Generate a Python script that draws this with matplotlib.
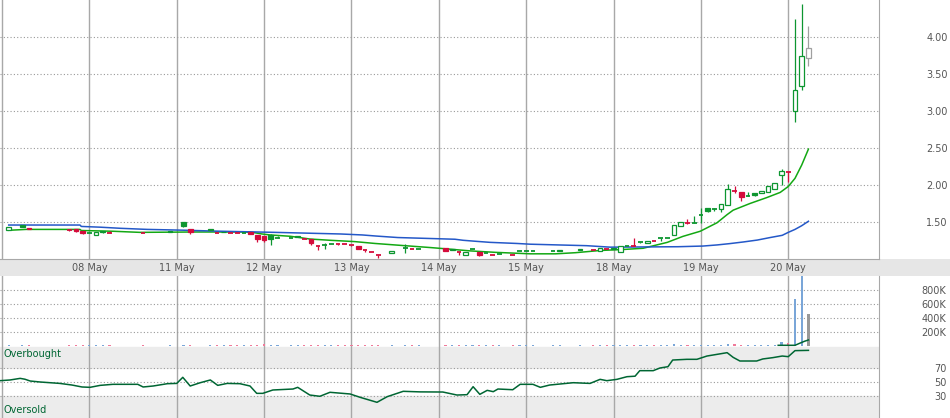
import matplotlib
matplotlib.use("Agg")
import matplotlib.pyplot as plt
from matplotlib.patches import Rectangle
import matplotlib.transforms as mtransforms

# 30-minute candles, 13 per trading day; missing slots = no trades
candle_idx = [1, 3, 4, 10, 11, 12, 13, 14, 15, 16, 21, 25, 27, 28, 31, 32, 33, 34, 35, 36,
              37, 38, 39, 40, 41, 43, 44, 45, 46, 47, 48, 49, 50, 51, 52, 53, 54, 55, 56, 58,
              60, 61, 62, 66, 67, 68, 69, 70, 71, 72, 73, 74, 76, 77, 78, 79, 82, 83, 86, 88,
              89, 90, 91, 92, 93, 94, 95, 96, 97, 98, 99, 100, 101, 102, 103, 104, 105, 106, 107, 108,
              109, 110, 111, 112, 113, 114, 115, 116, 117, 118, 119, 120]
opens = [1.39, 1.455, 1.415, 1.395, 1.40, 1.378, 1.347, 1.32, 1.38, 1.355, 1.35, 1.378, 1.50, 1.40, 1.40, 1.35, 1.37, 1.358, 1.356, 1.357,
         1.37, 1.32, 1.31, 1.32, 1.28, 1.29, 1.31, 1.27, 1.27, 1.18, 1.19, 1.207, 1.20, 1.198, 1.19, 1.175, 1.125, 1.09, 1.05, 1.08,
         1.145, 1.13, 1.132, 1.15, 1.135, 1.09, 1.06, 1.13, 1.09, 1.075, 1.05, 1.065, 1.05, 1.11, 1.11, 1.11, 1.11, 1.118, 1.13, 1.118,
         1.11, 1.13, 1.14, 1.09, 1.18, 1.175, 1.235, 1.21, 1.238, 1.28, 1.28, 1.33, 1.445, 1.49, 1.49, 1.595, 1.685, 1.67, 1.67, 1.73,
         1.92, 1.91, 1.845, 1.89, 1.89, 1.90, 1.94, 2.14, 2.18, 3.00, 3.34, 3.72]
highs = [1.43, 1.455, 1.415, 1.40, 1.40, 1.378, 1.347, 1.36, 1.38, 1.38, 1.35, 1.378, 1.50, 1.40, 1.40, 1.35, 1.37, 1.358, 1.356, 1.357,
         1.37, 1.32, 1.31, 1.34, 1.31, 1.29, 1.31, 1.27, 1.27, 1.18, 1.22, 1.207, 1.20, 1.198, 1.19, 1.175, 1.125, 1.09, 1.05, 1.11,
         1.20, 1.13, 1.132, 1.15, 1.135, 1.09, 1.092, 1.13, 1.09, 1.075, 1.05, 1.065, 1.05, 1.11, 1.11, 1.11, 1.11, 1.118, 1.13, 1.118,
         1.15, 1.13, 1.155, 1.175, 1.18, 1.28, 1.235, 1.24, 1.238, 1.28, 1.28, 1.455, 1.50, 1.535, 1.58, 1.685, 1.685, 1.69, 1.74, 2.01,
         1.98, 1.91, 1.91, 1.89, 1.92, 1.985, 2.03, 2.21, 2.18, 4.24, 4.445, 4.15]
lows = [1.39, 1.432, 1.40, 1.385, 1.37, 1.34, 1.347, 1.32, 1.35, 1.355, 1.35, 1.362, 1.43, 1.34, 1.388, 1.35, 1.362, 1.358, 1.356, 1.357,
        1.34, 1.23, 1.23, 1.195, 1.28, 1.29, 1.295, 1.27, 1.19, 1.12, 1.13, 1.207, 1.185, 1.198, 1.17, 1.13, 1.09, 1.09, 1.01, 1.08,
        1.08, 1.13, 1.132, 1.11, 1.115, 1.055, 1.06, 1.13, 1.045, 1.075, 1.05, 1.065, 1.05, 1.11, 1.11, 1.11, 1.11, 1.11, 1.122, 1.118,
        1.11, 1.13, 1.14, 1.09, 1.18, 1.175, 1.21, 1.21, 1.238, 1.25, 1.28, 1.33, 1.445, 1.475, 1.49, 1.485, 1.63, 1.645, 1.64, 1.73,
        1.89, 1.79, 1.845, 1.85, 1.89, 1.90, 1.94, 2.00, 2.045, 2.855, 3.29, 3.61]
closes = [1.43, 1.432, 1.40, 1.395, 1.38, 1.345, 1.347, 1.36, 1.365, 1.355, 1.35, 1.362, 1.45, 1.36, 1.388, 1.35, 1.362, 1.358, 1.356, 1.357,
          1.34, 1.265, 1.25, 1.275, 1.28, 1.29, 1.295, 1.27, 1.21, 1.18, 1.19, 1.207, 1.20, 1.198, 1.19, 1.13, 1.125, 1.09, 1.05, 1.11,
          1.145, 1.13, 1.132, 1.11, 1.115, 1.09, 1.092, 1.13, 1.055, 1.075, 1.05, 1.065, 1.05, 1.11, 1.11, 1.11, 1.11, 1.11, 1.122, 1.118,
          1.15, 1.13, 1.155, 1.175, 1.18, 1.175, 1.235, 1.24, 1.238, 1.28, 1.28, 1.455, 1.50, 1.49, 1.49, 1.595, 1.65, 1.67, 1.74, 1.94,
          1.92, 1.84, 1.845, 1.865, 1.92, 1.985, 2.03, 2.185, 2.18, 3.29, 3.74, 3.85]
volumes = [15000, 15000, 15000, 10000, 15000, 15000, 10000, 15000, 15000, 15000, 10000, 15000, 20000, 15000, 15000, 15000, 15000, 15000, 15000, 15000,
           15000, 20000, 35000, 15000, 10000, 10000, 15000, 15000, 15000, 15000, 15000, 15000, 15000, 15000, 15000, 15000, 15000, 15000, 15000, 15000,
           15000, 15000, 15000, 15000, 15000, 15000, 15000, 15000, 15000, 15000, 15000, 15000, 15000, 15000, 15000, 15000, 15000, 15000, 15000, 15000,
           15000, 15000, 15000, 15000, 15000, 15000, 15000, 15000, 15000, 15000, 15000, 25000, 15000, 15000, 20000, 20000, 20000, 15000, 15000, 29000,
           29000, 15000, 15000, 15000, 15000, 15000, 15000, 61000, 47000, 671000, 1000000, 461000]

# moving averages as (slot, price)
ma_short = [(1, 1.388), (3.6, 1.40), (11.6, 1.40), (11.8, 1.385), (16.5, 1.375), (20.5, 1.36), (28.7, 1.365),
            (36.2, 1.365), (37.6, 1.355), (38.7, 1.338), (39.9, 1.325), (42.9, 1.307), (44.3, 1.29), (45.8, 1.27),
            (48.8, 1.253), (52.5, 1.235), (55.5, 1.21), (59.2, 1.185), (63.7, 1.155), (66.4, 1.135), (69.6, 1.11),
            (73.4, 1.09), (78.6, 1.07), (82.4, 1.07), (85.3, 1.085), (89, 1.115), (92.7, 1.13), (95.4, 1.145),
            (99, 1.225), (101.3, 1.305), (103.9, 1.375), (106.4, 1.49), (107.9, 1.60), (108.8, 1.66), (111.3, 1.75),
            (113.8, 1.83), (115.8, 1.90), (117, 1.98), (118, 2.09), (119, 2.27), (120, 2.485)]
ma_long = [(1, 1.459), (11.6, 1.459), (11.8, 1.44), (14.6, 1.43), (17.6, 1.415), (21.6, 1.40), (26.6, 1.39),
           (32.6, 1.375), (40.6, 1.36), (50.4, 1.338), (53.6, 1.325), (55.7, 1.31), (58.9, 1.29), (62.6, 1.28),
           (67.4, 1.267), (68.6, 1.253), (70.4, 1.24), (72.6, 1.225), (76.6, 1.21), (78.6, 1.20), (87, 1.18),
           (90.5, 1.16), (100.6, 1.166), (104.3, 1.175), (106.4, 1.19), (108.3, 1.208), (110.3, 1.23), (112.4, 1.256),
           (114.3, 1.29), (116.1, 1.32), (117, 1.36), (118, 1.40), (119, 1.45), (120, 1.51)]
vol_ma = [(115.5, 10000), (118, 10000), (118.7, 39000), (119.4, 67000), (120, 86000)]
rsi = [(-0.3, 51.9), (1.2, 52.9), (2.7, 55.2), (3.4, 54), (4.2, 51.4), (5.7, 50), (8.6, 48), (10.4, 45.7),
       (11.9, 42.9), (13.1, 42.4), (14.6, 45.2), (16.5, 46.7), (20.2, 46.7), (21, 42.9), (22.5, 44.3), (24.6, 47.6),
       (26, 48), (26.9, 56.7), (28, 44.3), (29.5, 49), (31, 52.9), (32.1, 45.2), (33.5, 48), (35.4, 47.6),
       (36.9, 44.3), (37.9, 33.8), (38.8, 33.8), (40.3, 38.6), (43.3, 40), (44, 42.4), (45.8, 31.4), (47.3, 29.6),
       (48.8, 35.3), (51.8, 32.9), (53.3, 28.1), (55.8, 21), (57.3, 29), (59.7, 36.7), (62.2, 35.9), (65.6, 35.7),
       (67.7, 31.4), (69.2, 31.9), (70.1, 43.3), (71.1, 32.4), (72.2, 38.1), (73.1, 36.2), (73.8, 40), (76, 39),
       (77.1, 46.7), (79, 46.7), (80.1, 42.4), (81.5, 45.7), (85, 49), (87.5, 48), (89, 53.8), (90, 51.9),
       (91.5, 53.8), (93, 57.6), (94.2, 58.3), (94.9, 66.2), (96.9, 66.2), (97.9, 70), (99.1, 71.9), (99.8, 81.4),
       (101.9, 82.4), (103.4, 82.4), (104.9, 87.1), (107.9, 91.9), (108.8, 85.2), (109.8, 80), (112.3, 80),
       (113.2, 82.9), (114.7, 84.8), (116.1, 87.1), (117, 86.2), (118, 94.8), (120, 95.2)]

day_starts = [0, 13, 26, 39, 52, 65, 78, 91, 104, 117]
day_labels = ["", "08 May", "11 May", "12 May", "13 May", "14 May", "15 May", "18 May", "19 May", "20 May"]
price_ticks = [1.5, 2.0, 2.5, 3.0, 3.5, 4.0]
vol_ticks = [200000, 400000, 600000, 800000]
rsi_ticks = [30, 50, 70]

GREEN = "#0d9630"
RED = "#d40c3c"
GRID = "#a8a8a8"
TXT = "#555555"

W, H = 950, 418
fig = plt.figure(figsize=(W / 100, H / 100), dpi=100)
right = 879 / W
ax = fig.add_axes([0, 1 - 259 / H, right, 259 / H])
low = fig.add_axes([0, 0, right, 142 / H])
vol = low.twinx()

xlim = (-0.3, 130.5)
for a in (ax, low, vol):
    a.set_xlim(*xlim)
    a.set_xticks([])
    for s in a.spines.values():
        s.set_visible(False)
ax.set_ylim(1.0, 4.5)
low.set_ylim(-1.4, 201.4)
vol.set_ylim(-1028571, 1000000)

# date band
fig.add_artist(Rectangle((0, 1 - 276 / H), 1, 17 / H, transform=fig.transFigure,
                         facecolor="#e6e6e6", edgecolor="none", zorder=0))
ax.spines["bottom"].set_visible(True)
ax.spines["bottom"].set_color(GRID)
for a in (ax, low):
    a.spines["right"].set_visible(True)
    a.spines["right"].set_color(GRID)

for d in day_starts:
    ax.axvline(d, color=GRID, lw=1, zorder=1)
    low.axvline(d, color=GRID, lw=1, zorder=1)
for p in price_ticks:
    ax.axhline(p, color="#999999", lw=0.8, ls=(0, (1, 2)), zorder=1)

# candles
prev = None
wbody = 0.7
for k, i in enumerate(candle_idx):
    o, h, l, c = opens[k], highs[k], lows[k], closes[k]
    if k == len(candle_idx) - 1:
        col = "#a0a0a0"
    elif prev is None or c >= prev:
        col = GREEN
    else:
        col = RED
    prev = c
    if h > l:
        ax.vlines(i, l, h, color=col, lw=0.9, zorder=4)
    if c != o:
        face = "white" if c > o else col
        ax.add_patch(Rectangle((i - wbody / 2, min(o, c)), wbody, abs(c - o),
                               facecolor=face, edgecolor=col, lw=0.9, zorder=5))
    else:
        ax.hlines(c, i - wbody / 2, i + wbody / 2, color=col, lw=1.3, zorder=5)

ax.plot([p[0] for p in ma_short], [p[1] for p in ma_short], color="#13a813", lw=1.1, zorder=3)
ax.plot([p[0] for p in ma_long], [p[1] for p in ma_long], color="#2458c8", lw=1.1, zorder=3)

ax.yaxis.tick_right()
ax.set_yticks(price_ticks)
ax.set_yticklabels([f"{p:.2f}" for p in price_ticks])
ax.tick_params(axis="y", length=0, pad=49.5, labelsize=7, labelcolor=TXT)
for lab in ax.get_yticklabels():
    lab.set_horizontalalignment("right")

trans = mtransforms.blended_transform_factory(ax.transData, fig.transFigure)
for d, lab in zip(day_starts, day_labels):
    if lab:
        ax.text(d, 1 - 268 / H, lab, transform=trans, ha="center", va="center",
                fontsize=7, color=TXT, clip_on=False)

# lower panel: RSI bands + volume
low.axhspan(70, 100, color="#ececec", zorder=0)
low.axhspan(-1.4, 30, color="#ececec", zorder=0)
for r in rsi_ticks:
    low.axhline(r, color="#999999", lw=0.8, ls=(0, (1, 2)), zorder=1)
for v in vol_ticks:
    vol.axhline(v, color="#999999", lw=0.8, ls=(0, (1, 2)), zorder=1)
low.plot([p[0] for p in rsi], [p[1] for p in rsi], color="#006633", lw=1.1, zorder=3)
blend = mtransforms.blended_transform_factory(low.transAxes, low.transData)
low.text(4 / 879, 90, "Overbought", transform=blend, fontsize=7, color="#006633", va="center")
low.text(4 / 879, 9.5, "Oversold", transform=blend, fontsize=7, color="#006633", va="center")

vcols = []
prev = None
for k in range(len(candle_idx)):
    c = closes[k]
    if k == len(candle_idx) - 1:
        vcols.append("#999999")
    elif prev is None or c >= prev:
        vcols.append("#7aa6d8")
    else:
        vcols.append("#f07a9a")
    prev = c
vol.bar(candle_idx, volumes, width=0.32, color=vcols, zorder=4)
vol.plot([p[0] for p in vol_ma], [p[1] for p in vol_ma], color="#006633", lw=1.1, zorder=5)

low.yaxis.tick_right()
low.set_yticks(rsi_ticks)
low.set_yticklabels([str(r) for r in rsi_ticks])
vol.set_yticks(vol_ticks)
vol.set_yticklabels([f"{v // 1000}K" for v in vol_ticks])
for a in (low, vol):
    a.tick_params(axis="y", length=0, pad=48.5, labelsize=7, labelcolor=TXT)
    for lab in a.get_yticklabels():
        lab.set_horizontalalignment("right")

fig.savefig("out.png", dpi=100)
